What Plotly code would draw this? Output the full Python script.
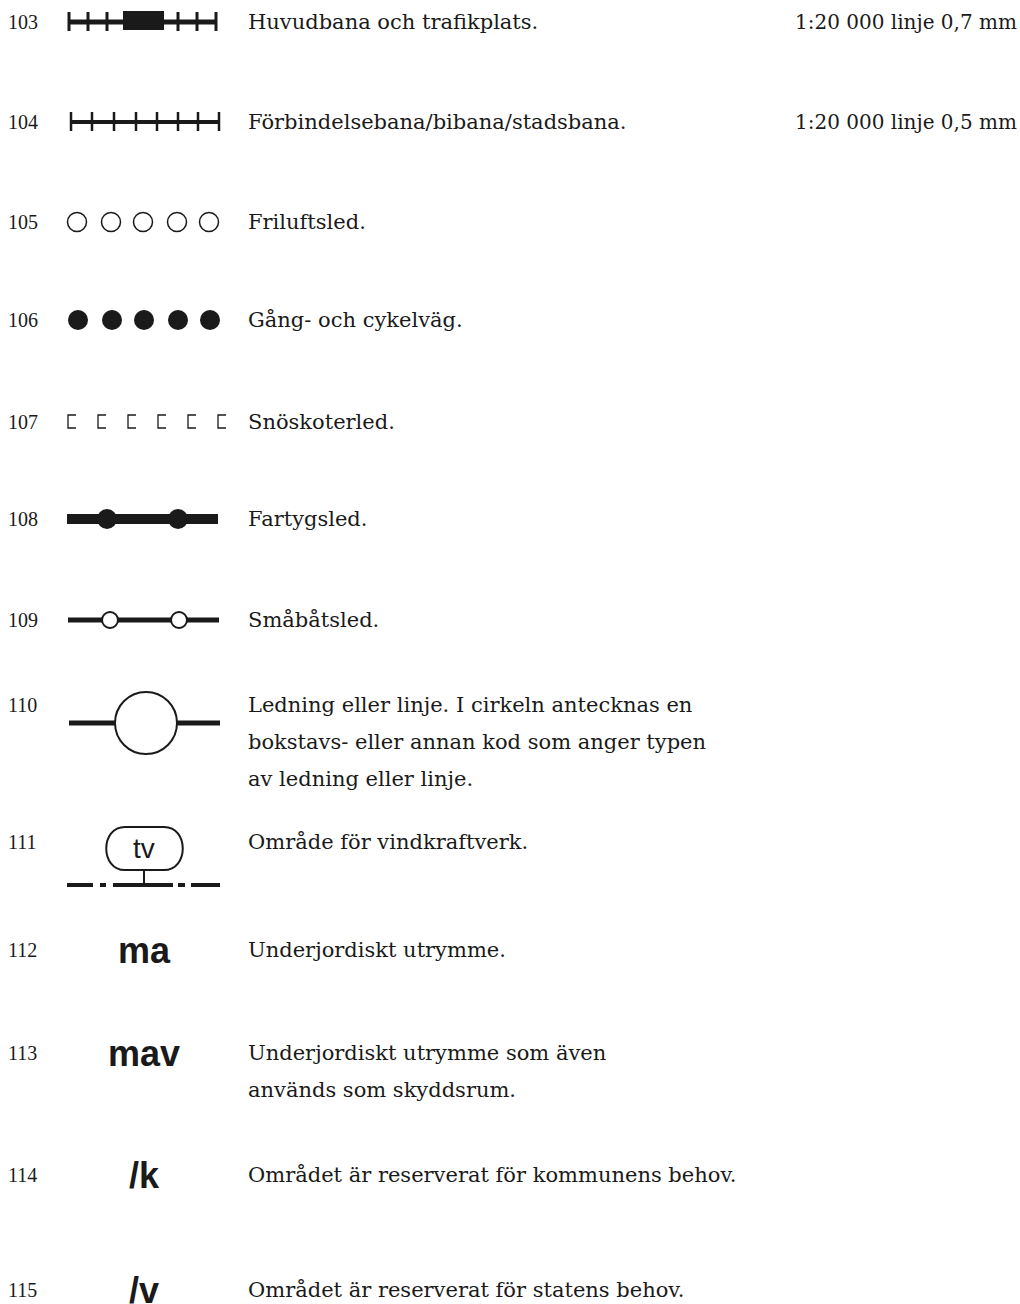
import plotly.graph_objects as go

# ---------------- data ----------------
codes = ["103", "104", "105", "106", "107", "108", "109", "110",
         "111", "112", "113", "114", "115"]
descriptions = [
    "Huvudbana och trafikplats.",
    "Förbindelsebana/bibana/stadsbana.",
    "Friluftsled.",
    "Gång- och cykelväg.",
    "Snöskoterled.",
    "Fartygsled.",
    "Småbåtsled.",
    "Ledning eller linje. I cirkeln antecknas en\nbokstavs- eller annan kod som anger typen\nav ledning eller linje.",
    "Område för vindkraftverk.",
    "Underjordiskt utrymme.",
    "Underjordiskt utrymme som även\nanvänds som skyddsrum.",
    "Området är reserverat för kommunens behov.",
    "Området är reserverat för statens behov.",
]
notes = ["1:20 000 linje 0,7 mm", "1:20 000 linje 0,5 mm", "", "", "", "", "",
         "", "", "", "", "", ""]
symbol_labels = ["", "", "", "", "", "", "", "", "tv", "ma", "mav", "/k", "/v"]

# ---------------- layout (positions / styles) ----------------
W, H = 1020, 1304
row_y = [22, 122, 222, 320, 422, 519, 620, 705, 842, 950, 1053, 1175, 1290]
LINE_GAP = 37
INK = "#1a1a1a"
SERIF = "DejaVu Serif"
CODE_FONT = "Liberation Serif"
SANS = "Liberation Sans"

fig = go.Figure()
shapes = []
ann = []


def line(x0, y0, x1, y1, w):
    shapes.append(dict(type="line", x0=x0, y0=y0, x1=x1, y1=y1,
                       line=dict(color=INK, width=w)))


def rect(x0, y0, x1, y1):
    shapes.append(dict(type="rect", x0=x0, y0=y0, x1=x1, y1=y1,
                       fillcolor=INK, line=dict(width=0)))


def circle(cx, cy, r, filled, w=1.5):
    shapes.append(dict(type="circle", x0=cx - r, y0=cy - r, x1=cx + r, y1=cy + r,
                       fillcolor=INK if filled else "white",
                       line=dict(color=INK, width=0 if filled else w)))


for i, code in enumerate(codes):
    y = row_y[i]
    ann.append(dict(x=6, y=y, text=code, xanchor="left", yanchor="middle",
                    showarrow=False, font=dict(family=CODE_FONT, size=20, color=INK)))
    for j, t in enumerate(descriptions[i].split("\n")):
        ann.append(dict(x=246, y=y + j * LINE_GAP, text=t, xanchor="left",
                        yanchor="middle", showarrow=False,
                        font=dict(family=SERIF, size=21, color=INK)))
    if notes[i]:
        ann.append(dict(x=1019, y=y, text=notes[i], xanchor="right",
                        yanchor="middle", showarrow=False,
                        font=dict(family=SERIF, size=20, color=INK)))

    if code == "103":
        line(68, y, 216, y, 5)
        for tx in [69, 88, 107, 178, 197, 216]:
            line(tx, y - 10, tx, y + 9, 3)
        rect(123, y - 11, 164, y + 8)
    elif code == "104":
        line(71, y, 219, y, 4)
        for tx in [71, 92, 114, 136, 157, 178, 198, 219]:
            line(tx, y - 10, tx, y + 9, 2.5)
    elif code == "105":
        for cx in [77, 111, 143, 177, 209]:
            circle(cx, y, 9.5, False, 1.5)
    elif code == "106":
        for cx in [78, 112, 144, 178, 210]:
            circle(cx, y, 10, True)
    elif code == "107":
        for bx in [68, 98, 128, 158, 188, 218]:
            shapes.append(dict(type="path",
                               path=f"M {bx + 8} {y - 7} L {bx} {y - 7} L {bx} {y + 6} L {bx + 8} {y + 6}",
                               line=dict(color=INK, width=1.3)))
    elif code == "108":
        rect(67, y - 5, 218, y + 5)
        for cx in [107, 178]:
            circle(cx, y, 10, True)
    elif code == "109":
        line(68, y, 219, y, 5)
        for cx in [110, 179]:
            circle(cx, y, 8, False, 2)
    elif code == "110":
        cy = y + 18
        line(69, cy, 220, cy, 5)
        circle(146, cy, 31, False, 2)
    elif code == "111":
        top, bot = y - 15, y + 28
        shapes.append(dict(type="path",
                           path=(f"M 125 {top} L 164 {top} C 189 {top} 189 {bot} 164 {bot} "
                                 f"L 125 {bot} C 100 {bot} 100 {top} 125 {top} Z"),
                           fillcolor="white", line=dict(color=INK, width=2)))
        base = y + 43
        line(144, bot, 144, base, 2)
        for x0, x1 in [(67, 93), (100, 106), (113, 173), (178, 185), (191, 220)]:
            line(x0, base, x1, base, 4)
        ann.append(dict(x=144, y=(top + bot) / 2, text=symbol_labels[i],
                        xanchor="center", yanchor="middle", showarrow=False,
                        font=dict(family=SANS, size=28, color=INK)))
    elif symbol_labels[i]:
        ann.append(dict(x=144, y=y, text=f"<b>{symbol_labels[i]}</b>",
                        xanchor="center", yanchor="middle", showarrow=False,
                        font=dict(family=SANS, size=36, color=INK)))

fig.update_layout(
    width=W, height=H,
    margin=dict(l=0, r=0, t=0, b=0),
    paper_bgcolor="white", plot_bgcolor="white",
    xaxis=dict(range=[0, W], visible=False, fixedrange=True),
    yaxis=dict(range=[H, 0], visible=False, fixedrange=True),
    shapes=shapes, annotations=ann, showlegend=False,
)
fig.write_html("out.html",
               config={"displayModeBar": False, "staticPlot": True},
               post_script="document.body.style.margin='0';document.body.style.overflow='hidden';")
